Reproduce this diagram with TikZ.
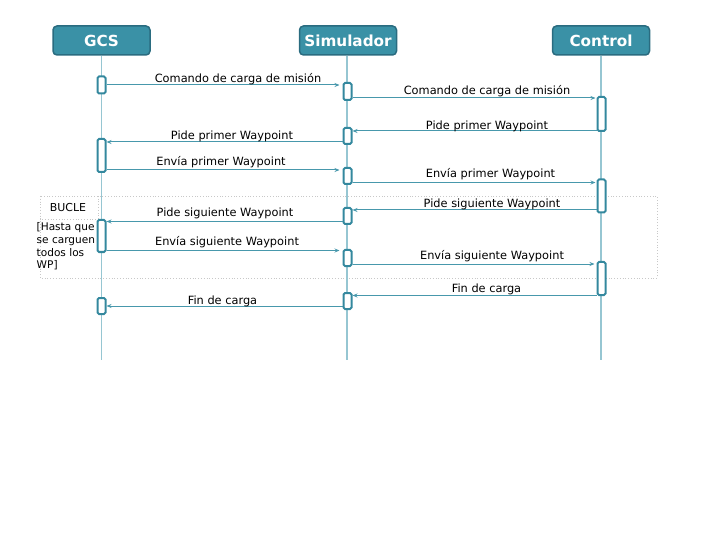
\documentclass[tikz,border=0pt]{standalone}
\usepackage{fontspec}
\setmainfont{DejaVu Sans}
\usetikzlibrary{arrows.meta}
\definecolor{hdrfill}{RGB}{58,145,166}
\definecolor{hdrline}{RGB}{42,108,128}
\definecolor{lifec}{RGB}{150,198,210}
\definecolor{msgc}{RGB}{72,152,172}
\definecolor{actc}{RGB}{52,136,158}
\definecolor{framec}{RGB}{200,200,200}
\tikzset{
  hdr/.style={draw=hdrline, line width=1.5bp, fill=hdrfill, rounded corners=4bp,
    minimum width=97bp, minimum height=29bp, inner sep=0pt,
    text=white, font=\fontsize{15.3}{16}\selectfont\bfseries},
  life/.style={draw=lifec, line width=1.4bp},
  act/.style={draw=actc, fill=white, line width=2bp, rounded corners=1.5bp,
    minimum width=8bp, inner sep=0pt},
  msg/.style={draw=msgc, line width=1bp, -{Stealth[length=5bp,width=4bp]}},
  lbl/.style={font=\fontsize{11.4}{12}\selectfont, text=black, inner sep=0pt},
  frame/.style={draw=framec, dotted, line width=0.8bp},
  small/.style={font=\fontsize{11}{13}\selectfont, text=black, inner sep=0pt, align=left}
}
\newcommand\actbox[4]{\node[act, minimum height=#4bp] (#1) at (#2,#3) {};}
\begin{document}
\begin{tikzpicture}[x=1bp,y=-1bp]
\useasboundingbox (0,0) rectangle (720,540);
% loop frame
\draw[frame] (40,196) rectangle (657,278);
\draw[frame] (40,196) -- (40,219) -- (98,219) -- (98,196);
\node[small] (bucle) at (68,208) {BUCLE};
\node[small, anchor=north west, font=\fontsize{10.6}{12.8}\selectfont] (cond) at (36.5,222.5) {[Hasta que\\se carguen\\todos los\\WP]};
% headers
\node[hdr] (gcs) at (101.5,40.5) {GCS};
\node[hdr] (sim) at (348,40.5) {Simulador};
\node[hdr] (ctl) at (601,40.5) {Control};
% lifelines
\coordinate (gend) at (101.5,360);
\coordinate (send) at (347,360);
\coordinate (cend) at (601,360);
\draw[life] (gcs.south) -- (gend);
\draw[life] (sim.south -| send) -- (send);
\draw[life] (ctl.south) -- (cend);
% activations
\actbox{g1}{101.5}{85}{17}
\actbox{g2}{101.5}{155.5}{33}
\actbox{g3}{101.5}{236}{32}
\actbox{g4}{101.5}{306}{16}
\actbox{s1}{347.5}{91.5}{17}
\actbox{s2}{347.5}{136}{16}
\actbox{s3}{347.5}{176}{16}
\actbox{s4}{347.5}{216}{16}
\actbox{s5}{347.5}{258}{16}
\actbox{s6}{347.5}{301}{16}
\actbox{c1}{601.5}{114}{34}
\actbox{c2}{601.5}{196}{33}
\actbox{c3}{601.5}{278.5}{33}
% messages
\draw[msg] (g1.east |- 0,85) -- ([xshift=-3bp]s1.west |- 0,85);
\node[lbl] (m1) at (238,79.5) {Comando de carga de misión};
\draw[msg] (s1.east |- 0,98) -- ([xshift=-1bp]c1.west |- 0,98);
\node[lbl] (m2) at (487,91.5) {Comando de carga de misión};
\draw[msg] (c1.west |- 0,131) -- (s2.east |- 0,131);
\node[lbl] (m3) at (487,126) {Pide primer Waypoint};
\draw[msg] (s2.west |- 0,142) -- (g2.east |- 0,142);
\node[lbl] (m4) at (232,136.5) {Pide primer Waypoint};
\draw[msg] (g2.east |- 0,170) -- ([xshift=-3bp]s3.west |- 0,170);
\node[lbl] (m5) at (221,162.5) {Envía primer Waypoint};
\draw[msg] (s3.east |- 0,182.5) -- ([xshift=-1bp]c2.west |- 0,182.5);
\node[lbl] (m6) at (490.5,174.5) {Envía primer Waypoint};
\draw[msg] (c2.west |- 0,210) -- (s4.east |- 0,210);
\node[lbl] (m7) at (492,204.5) {Pide siguiente Waypoint};
\draw[msg] (s4.west |- 0,221.5) -- (g3.east |- 0,221.5);
\node[lbl] (m8) at (225,213) {Pide siguiente Waypoint};
\draw[msg] (g3.east |- 0,250.5) -- ([xshift=-3bp]s5.west |- 0,250.5);
\node[lbl] (m9) at (227,242.5) {Envía siguiente Waypoint};
\draw[msg] (s5.east |- 0,264) -- ([xshift=-2bp]c3.west |- 0,264);
\node[lbl] (m10) at (492,256.5) {Envía siguiente Waypoint};
\draw[msg] (c3.west |- 0,295.5) -- (s6.east |- 0,295.5);
\node[lbl] (m11) at (486.5,289.5) {Fin de carga};
\draw[msg] (s6.west |- 0,306) -- (g4.east |- 0,306);
\node[lbl] (m12) at (222.5,301.5) {Fin de carga};
\end{tikzpicture}
\end{document}
